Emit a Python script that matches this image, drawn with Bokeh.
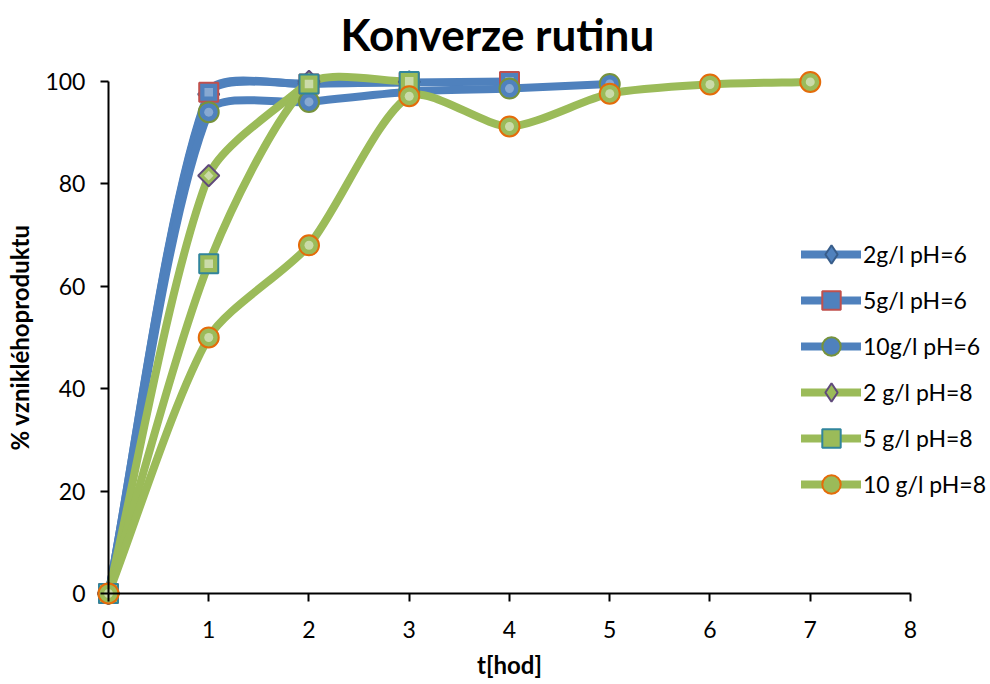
import math
from bokeh.plotting import figure
from bokeh.models import Legend, LegendItem, FixedTicker, Range1d
from bokeh.embed import file_html
from bokeh.resources import INLINE

# time in hours
hours = [0, 1, 2, 3, 4, 5, 6, 7]

# % of product formed
conv_2g_ph6 = [0, 97.5, 99.6, 99.9]
conv_5g_ph6 = [0, 97.9, 99.5, 99.8, 100.0]
conv_10g_ph6 = [0, 94.0, 96.0, 98.0, 98.6, 99.5]
conv_2g_ph8 = [0, 81.6, 100.0]
conv_5g_ph8 = [0, 64.4, 99.5, 100.0]
conv_10g_ph8 = [0, 50.0, 68.0, 97.1, 91.2, 97.6, 99.4, 99.9]

series_labels = ["2g/l pH=6", "5g/l pH=6", "10g/l pH=6",
                 "2 g/l pH=8", "5 g/l pH=8", "10 g/l pH=8"]
x_ticks = [0, 1, 2, 3, 4, 5, 6, 7, 8]
y_ticks = [0, 20, 40, 60, 80, 100]

FONT = "Lato"
BLUE = "#4F81BD"
GREEN = "#9BBB59"

# pixels per data unit, so the smoothing works in screen proportions
PX_X = 100.25
PX_Y = 5.12

p = figure(width=990, height=684,
           x_range=Range1d(-1.077, 8.798), y_range=Range1d(-17.77, 103.3),
           output_backend="svg", toolbar_location=None,
           min_border_left=0, min_border_right=0,
           min_border_top=0, min_border_bottom=0)
p.outline_line_color = None
p.xgrid.visible = False
p.ygrid.visible = False

p.title.text = "Konverze rutinu"
p.title.text_font = FONT
p.title.text_font_style = "bold"
p.title.text_font_size = "44px"
p.title.text_color = "black"
p.title.align = "left"
p.title.offset = 340

for ax in (p.xaxis[0], p.yaxis[0]):
    ax.fixed_location = 0
    ax.axis_line_color = "black"
    ax.axis_line_width = 2
    ax.major_tick_line_color = "black"
    ax.major_tick_line_width = 2
    ax.major_tick_in = 0
    ax.major_tick_out = 8
    ax.minor_tick_line_color = None
    ax.major_label_text_font = FONT
    ax.major_label_text_font_size = "23px"
    ax.major_label_text_color = "black"
    ax.axis_label_text_font = FONT
    ax.axis_label_text_font_style = "bold"
    ax.axis_label_text_font_size = "24px"
    ax.axis_label_text_color = "black"

p.xaxis[0].bounds = (0, 8)
p.xaxis[0].ticker = FixedTicker(ticks=x_ticks)
p.xaxis[0].axis_label = "t[hod]"
p.xaxis[0].major_label_standoff = 20
p.xaxis[0].axis_label_standoff = 8

p.yaxis[0].bounds = (0, 100)
p.yaxis[0].ticker = FixedTicker(ticks=y_ticks)
p.yaxis[0].axis_label = "% vznikléhoproduktu"
p.yaxis[0].major_label_standoff = 15
p.yaxis[0].axis_label_standoff = 8


def smooth_curve(xs, ys, t=0.25):
    """Bezier segments through the points, tangents scaled by segment length."""
    pts = [(x * PX_X, y * PX_Y) for x, y in zip(xs, ys)]
    n = len(pts)
    seg = dict(x0=[], y0=[], x1=[], y1=[], cx0=[], cy0=[], cx1=[], cy1=[])

    def dist(a, b):
        return math.hypot(a[0] - b[0], a[1] - b[1])

    for i in range(n - 1):
        p0 = pts[i - 1] if i > 0 else pts[i]
        p1, p2 = pts[i], pts[i + 1]
        p3 = pts[i + 2] if i + 2 < n else pts[i + 1]
        d01, d12, d23 = dist(p0, p1), dist(p1, p2), dist(p2, p3)
        fa = t * d12 / (d01 + d12)
        fb = t * d12 / (d12 + d23)
        c1 = (p1[0] + fa * (p2[0] - p0[0]), p1[1] + fa * (p2[1] - p0[1]))
        c2 = (p2[0] - fb * (p3[0] - p1[0]), p2[1] - fb * (p3[1] - p1[1]))
        seg["x0"].append(p1[0] / PX_X)
        seg["y0"].append(p1[1] / PX_Y)
        seg["x1"].append(p2[0] / PX_X)
        seg["y1"].append(p2[1] / PX_Y)
        seg["cx0"].append(c1[0] / PX_X)
        seg["cy0"].append(c1[1] / PX_Y)
        seg["cx1"].append(c2[0] / PX_X)
        seg["cy1"].append(c2[1] / PX_Y)
    return seg


series = [
    (conv_2g_ph6, BLUE, dict(marker="square", angle=math.pi / 4, size=15,
                             fill_color=BLUE, line_color="#385D8A"), "#95B3D7"),
    (conv_5g_ph6, BLUE, dict(marker="square", size=19,
                             fill_color=BLUE, line_color="#C0504D"), "#95B3D7"),
    (conv_10g_ph6, BLUE, dict(marker="circle", size=20,
                              fill_color=BLUE, line_color="#77933C"), "#95B3D7"),
    (conv_2g_ph8, GREEN, dict(marker="square", angle=math.pi / 4, size=15,
                              fill_color=GREEN, line_color="#604A7B"), "#D7E4BD"),
    (conv_5g_ph8, GREEN, dict(marker="square", size=19,
                              fill_color=GREEN, line_color="#31859C"), "#D7E4BD"),
    (conv_10g_ph8, GREEN, dict(marker="circle", size=20,
                               fill_color=GREEN, line_color="#E46C0A"), "#D7E4BD"),
]

line_renderers = []
for ys, color, _, _ in series:
    xs = hours[:len(ys)]
    seg = smooth_curve(xs, ys)
    r = p.bezier(x0="x0", y0="y0", x1="x1", y1="y1",
                 cx0="cx0", cy0="cy0", cx1="cx1", cy1="cy1",
                 source=seg, line_color=color, line_width=8, line_cap="round")
    line_renderers.append(r)

items = []
for (ys, color, mk, hi), label, lr in zip(series, series_labels, line_renderers):
    xs = hours[:len(ys)]
    key_mark = None
    if "angle" in mk:
        # a plain diamond sits under the rotated square; the legend swatch
        # ignores marker angle, so the legend uses this one
        key = dict(mk)
        key.pop("angle")
        key["marker"] = "diamond"
        key["size"] = 18
        key_mark = p.scatter(xs, ys, line_width=2, **key)
    m = p.scatter(xs, ys, line_width=2, **mk)
    inner = dict(mk)
    inner["size"] = mk["size"] * 0.45
    inner["fill_color"] = hi
    inner["line_color"] = None
    p.scatter(xs, ys, fill_alpha=0.8, **inner)
    items.append(LegendItem(label=label, renderers=[lr, key_mark or m]))

legend = Legend(items=items, location=(801, 177),
                glyph_width=60, glyph_height=46, label_standoff=2, spacing=0,
                padding=0, margin=0, border_line_color=None,
                background_fill_alpha=0,
                label_text_font=FONT, label_text_font_size="23px",
                label_text_color="black")
p.add_layout(legend)

open("out.html", "w").write(file_html(p, INLINE))
